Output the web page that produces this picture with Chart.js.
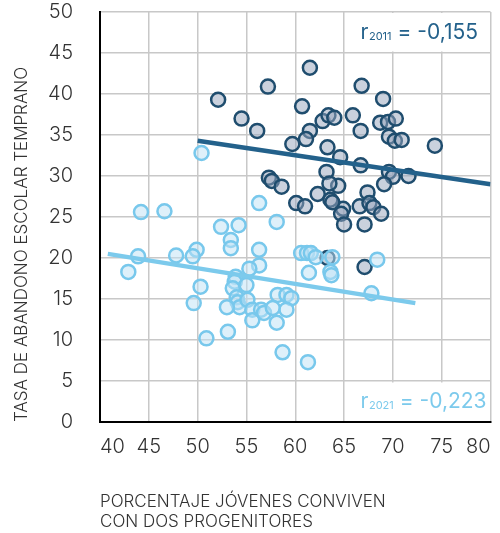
<!DOCTYPE html>
<html>
<head>
<meta charset="utf-8">
<script src="https://cdn.jsdelivr.net/npm/chart.js@4"></script>
<style>
  html, body { margin: 0; padding: 0; background: #fff; }
  #wrap { width: 500px; height: 533px; }
</style>
</head>
<body>
<div id="wrap"><canvas id="myChart" width="500" height="533"></canvas></div>
<script>
// 2011 values (dark points)
var x2011 = [52.1, 57.2, 61.5, 54.5, 56.1, 60.7, 62.8, 63.4, 64.0, 61.5, 61.1, 59.7, 63.3, 64.6, 63.2, 57.3, 57.6,
             66.8, 69.0, 65.9, 68.7, 69.5, 70.3, 66.7, 69.6, 70.2, 70.9, 74.3, 66.7, 69.6, 70.0, 71.6, 69.1,
             64.4, 67.4, 64.9, 66.6, 67.6, 68.0, 68.8, 64.7, 65.0, 67.1, 67.1, 58.6, 60.1, 61.0, 63.5, 62.3,
             63.6, 63.8, 63.3];
var y2011 = [39.3, 40.9, 43.2, 37.0, 35.5, 38.5, 36.7, 37.4, 37.1, 35.5, 34.5, 33.9, 33.5, 32.3, 30.5, 29.8, 29.4,
             41.0, 39.4, 37.4, 36.5, 36.6, 37.0, 35.5, 34.8, 34.3, 34.4, 33.7, 31.3, 30.5, 29.9, 30.0, 29.0,
             28.8, 28.0, 26.0, 26.3, 26.7, 26.2, 25.4, 25.4, 24.1, 24.1, 18.9, 28.7, 26.7, 26.3, 29.1, 27.8,
             27.1, 26.8, 20.0];

// 2021 values (light points)
var x2021 = [50.4, 44.2, 46.6, 52.4, 54.2, 56.3, 58.1, 53.4, 53.4, 43.9, 47.8, 49.9, 49.5, 42.9, 56.3, 56.3, 55.3,
             60.6, 61.2, 61.6, 62.1, 61.4, 63.6, 50.3, 49.6, 53.9, 53.8, 53.6, 55.0, 54.0, 54.1, 54.3, 53.0,
             55.1, 55.6, 55.6, 56.5, 56.8, 58.2, 59.1, 59.6, 57.7, 59.1, 58.1, 53.1, 50.9, 58.7, 61.3, 63.8,
             68.4, 67.8, 63.7];
var y2021 = [32.8, 25.6, 25.7, 23.8, 24.0, 26.7, 24.4, 22.2, 21.2, 20.2, 20.3, 21.0, 20.2, 18.3, 21.0, 19.1, 18.7,
             20.6, 20.6, 20.6, 20.1, 18.2, 18.3, 16.5, 14.5, 17.7, 17.1, 16.3, 16.7, 15.2, 14.6, 14.0, 14.0,
             14.9, 13.7, 12.4, 13.7, 13.3, 15.5, 15.5, 15.1, 13.9, 13.7, 12.1, 11.0, 10.2, 8.5, 7.3, 20.1,
             19.8, 15.7, 17.9];

// trend lines (end points)
var trend2011X = [50, 80];
var trend2011Y = [34.3, 29.0];
var trend2021X = [40.8, 72.3];
var trend2021Y = [20.5, 14.5];

var corrLabels = [
    { year: '2011', value: '-0,155', color: '#23618b' },
    { year: '2021', value: '-0,223', color: '#7ccaec' }
];

function toPoints(xs, ys) {
    var pts = [];
    for (var i = 0; i < xs.length; i++) {
        pts.push({ x: xs[i], y: ys[i] });
    }
    return pts;
}

var fontName = 'Inter, "DejaVu Sans", sans-serif';
var darkLine = '#23618b';
var lightLine = '#7ccaec';

// white boxes with the r values
var corrPlugin = {
    id: 'corrPlugin',
    beforeDatasetsDraw: function(chart) {
        var ctx = chart.ctx;
        var xs = chart.scales.x;
        var ys = chart.scales.y;
        var left = xs.getPixelForValue(65) + 1.5;
        var right = xs.getPixelForValue(80) - 1;
        var boxes = [
            { top: ys.getPixelForValue(50) + 1, bottom: ys.getPixelForValue(45) - 1.5 },
            { top: ys.getPixelForValue(5) + 1.5, bottom: ys.getPixelForValue(0) - 1 }
        ];
        ctx.save();
        for (var i = 0; i < boxes.length; i++) {
            var b = boxes[i];
            var lab = corrLabels[i];
            ctx.fillStyle = '#fff';
            ctx.fillRect(left, b.top, right - left, b.bottom - b.top);
            var x = left + 15;
            var y = b.top + 25.5;
            ctx.fillStyle = lab.color;
            ctx.textBaseline = 'alphabetic';
            ctx.textAlign = 'left';
            ctx.font = '21px ' + fontName;
            ctx.fillText('r', x, y);
            x += ctx.measureText('r').width + 0.5;
            ctx.font = '11px ' + fontName;
            ctx.fillText(lab.year, x, y + 1);
            x += ctx.measureText(lab.year).width;
            ctx.font = '21px ' + fontName;
            ctx.fillText(' = ' + lab.value, x, y);
        }
        ctx.restore();
    }
};

var ctx = document.getElementById('myChart').getContext('2d');
var myChart = new Chart(ctx, {
    type: 'scatter',
    data: {
        datasets: [
            {
                type: 'line',
                data: toPoints(trend2011X, trend2011Y),
                borderColor: darkLine,
                borderWidth: 4.5,
                pointRadius: 0,
                fill: false,
                order: 0
            },
            {
                type: 'line',
                data: toPoints(trend2021X, trend2021Y),
                borderColor: lightLine,
                borderWidth: 4.5,
                pointRadius: 0,
                fill: false,
                order: 0
            },
            {
                label: '2021',
                data: toPoints(x2021, y2021),
                backgroundColor: 'rgba(190, 225, 245, 0.5)',
                borderColor: '#78c8ec',
                borderWidth: 2.5,
                pointRadius: 7,
                order: 1
            },
            {
                label: '2011',
                data: toPoints(x2011, y2011),
                backgroundColor: 'rgba(150, 163, 187, 0.5)',
                borderColor: '#1f4d6e',
                borderWidth: 2.5,
                pointRadius: 7,
                order: 2
            }
        ]
    },
    options: {
        responsive: false,
        animation: false,
        events: [],
        layout: { padding: { top: 12, right: 6, left: 0, bottom: 0 } },
        plugins: {
            legend: { display: false },
            tooltip: { enabled: false }
        },
        scales: {
            x: {
                type: 'linear',
                min: 40,
                max: 80,
                afterFit: function(scale) { scale.height = 111; },
                ticks: {
                    stepSize: 5,
                    align: 'inner',
                    padding: 0,
                    color: '#333',
                    font: { family: fontName, size: 20, weight: '300' }
                },
                grid: { color: '#c8c8c8', lineWidth: 1.5, drawTicks: true, tickLength: 13, tickColor: 'rgba(0,0,0,0)' },
                border: { color: '#000', width: 2 },
                title: {
                    display: true,
                    align: 'start',
                    text: ['PORCENTAJE JÓVENES CONVIVEN', 'CON DOS PROGENITORES'],
                    color: '#333',
                    font: { family: fontName, size: 17, weight: '300', lineHeight: 1.18 },
                    padding: { top: 0, bottom: 1 }
                }
            },
            y: {
                min: 0,
                max: 50,
                afterFit: function(scale) { scale.width = 100; },
                ticks: {
                    stepSize: 5,
                    padding: 0,
                    color: '#333',
                    font: { family: fontName, size: 20, weight: '300' }
                },
                grid: { color: '#c8c8c8', lineWidth: 1.5, drawTicks: true, tickLength: 27, tickColor: 'rgba(0,0,0,0)' },
                border: { color: '#000', width: 2 },
                title: {
                    display: true,
                    align: 'start',
                    text: 'TASA DE ABANDONO ESCOLAR TEMPRANO',
                    color: '#333',
                    font: { family: fontName, size: 17, weight: '300', lineHeight: 1.2 },
                    padding: { top: 12, bottom: 0 }
                }
            }
        }
    },
    plugins: [corrPlugin]
});
</script>
</body>
</html>
